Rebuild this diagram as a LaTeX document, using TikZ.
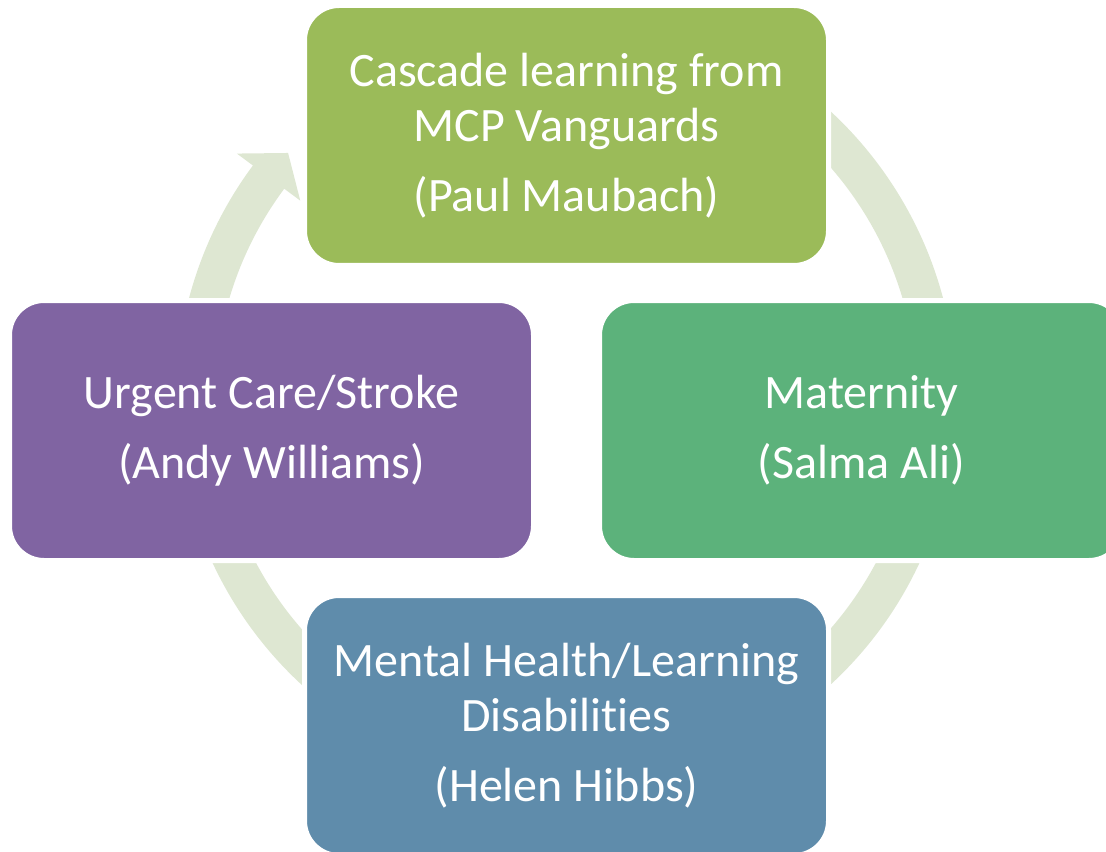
\documentclass[tikz,border=0pt]{standalone}
\usepackage{fontspec}
\setmainfont[Ligatures=NoCommon]{Carlito}
\definecolor{cgreen}{RGB}{155,187,89}
\definecolor{cteal}{RGB}{92,178,123}
\definecolor{cpurple}{RGB}{128,100,162}
\definecolor{cblue}{RGB}{95,140,171}
\definecolor{cring}{RGB}{222,231,210}
\tikzset{
  cyclebox/.style={rounded corners=26pt, draw=white, line width=3.75pt,
    minimum width=393pt, minimum height=195pt, inner sep=0pt,
    text=white, align=center, font=\fontsize{36}{41.25}\selectfont}
}
\begin{document}
\begin{tikzpicture}[x=0.75pt,y=-0.75pt]
\useasboundingbox (0,0) rectangle (1106,852);
% ring arrow
\begin{scope}[shift={(566,398)}]
\fill[cring] (75:292.5pt) arc[start angle=75, end angle=-216.6, radius=292.5pt]
  -- (-216.6:307.5pt) -- (-221.4:277.9pt) -- (-216.6:248.25pt)
  -- (-216.6:263.25pt) arc[start angle=-216.6, end angle=75, radius=263.25pt] -- cycle;
\end{scope}
\node[cyclebox, fill=cgreen] (top) at (566.5,135.5) {Cascade learning from\\MCP Vanguards\\[11.25pt](Paul Maubach)};
\node[cyclebox, fill=cteal] (right) at (861.5,430.5) {Maternity\\[11.25pt](Salma Ali)};
\node[cyclebox, fill=cblue] (bottom) at (566.5,725.5) {Mental Health/Learning\\Disabilities\\[11.25pt](Helen Hibbs)};
\node[cyclebox, fill=cpurple] (left) at (271.5,430.5) {Urgent Care/Stroke\\[11.25pt](Andy Williams)};
\end{tikzpicture}
\end{document}
